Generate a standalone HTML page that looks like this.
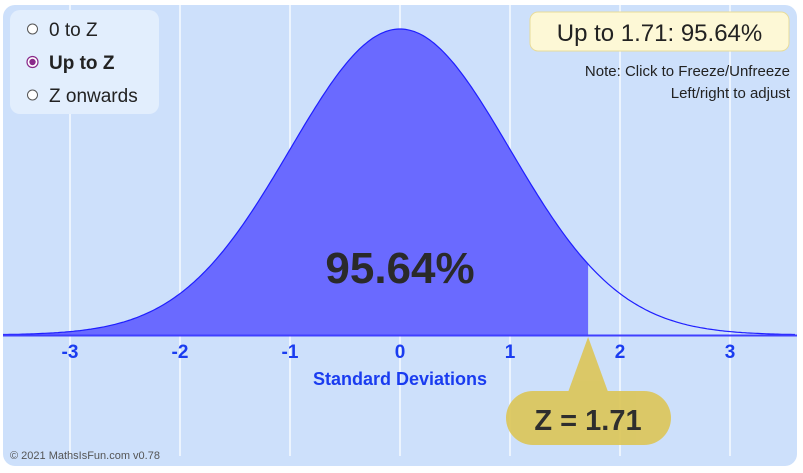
<!DOCTYPE html>
<html><head><meta charset="utf-8"><style>
body{margin:0;width:803px;height:473px;background:#fff;font-family:"Liberation Sans",Arial,sans-serif;overflow:hidden}
svg{position:absolute;left:0;top:0}
</style></head><body>
<svg width="803" height="473" id="chart">
<rect x="3" y="5" width="794" height="461" rx="12" fill="#cde0fb"/>
<g id="grid"></g>
<path id="fill" fill="#6a6aff"/>
<path id="curve" fill="none" stroke="#1f1fff" stroke-width="1.2"/>
<line x1="3" x2="797" y1="335.5" y2="335.5" stroke="#4040ff" stroke-width="2"/>
<g id="ticks"></g>
<text x="400" y="385" text-anchor="middle" font-size="18" font-weight="bold" fill="#1a3cf0">Standard Deviations</text>
<text id="pct" x="400" y="283" text-anchor="middle" font-size="44" font-weight="bold" fill="#2a2a2a"></text>
<g>
<rect x="10" y="10" width="149" height="104" rx="10" fill="#e2eefd"/>
<g><circle cx="32.5" cy="29" r="5" fill="#fff" stroke="#555" stroke-width="1"/><text x="49" y="36" font-size="19" fill="#222">0 to Z</text></g>
<g><circle cx="32.5" cy="62" r="5.5" fill="#fff" stroke="#8a2a8a" stroke-width="1.2"/><circle cx="32.5" cy="62" r="3.2" fill="#8a2a8a"/><text x="49" y="69" font-size="19" font-weight="bold" fill="#222">Up to Z</text></g>
<g><circle cx="32.5" cy="95" r="5" fill="#fff" stroke="#555" stroke-width="1"/><text x="49" y="102" font-size="19" fill="#222">Z onwards</text></g>
</g>
<rect x="530" y="12" width="259" height="39" rx="8" fill="#fdf8d6" stroke="#e8dc9a"/>
<text id="result" x="659.5" y="41" text-anchor="middle" font-size="24" fill="#222"></text>
<text x="790" y="76" text-anchor="end" font-size="15" fill="#222">Note: Click to Freeze/Unfreeze</text>
<text x="790" y="98" text-anchor="end" font-size="15" fill="#222">Left/right to adjust</text>
<g opacity="0.92">
<path id="tri" fill="#dcc65a"/>
<rect x="506" y="391" width="165" height="54" rx="27" fill="#dcc65a"/>
</g>
<text id="zlabel" x="588" y="430" text-anchor="middle" font-size="29" font-weight="bold" fill="#2e2e2e"></text>
<text x="10" y="459" font-size="11" fill="#555">© 2021 MathsIsFun.com v0.78</text>
</svg>
<script>
const zValue = 1.71;
const areaPercent = 95.64;
const tickValues = [-3,-2,-1,0,1,2,3];
const xOf = z => 400 + z*110;
const yOf = d => 335 - d/0.398942*306;
const pdf = z => Math.exp(-z*z/2)/Math.sqrt(2*Math.PI);
const ns="http://www.w3.org/2000/svg";
const grid=document.getElementById('grid'), ticks=document.getElementById('ticks');
tickValues.forEach(t=>{
  const l=document.createElementNS(ns,'line');
  l.setAttribute('x1',xOf(t));l.setAttribute('x2',xOf(t));l.setAttribute('y1',5);l.setAttribute('y2',456);
  l.setAttribute('stroke','#ffffff');l.setAttribute('stroke-width','1.5');l.setAttribute('opacity','0.85');
  
  
  grid.appendChild(l);
  const tx=document.createElementNS(ns,'text');
  tx.setAttribute('x',xOf(t));tx.setAttribute('y',358);tx.setAttribute('text-anchor','middle');
  tx.setAttribute('font-size','19');tx.setAttribute('font-weight','bold');tx.setAttribute('fill','#1a3cf0');
  tx.textContent=t;
  
  
  ticks.appendChild(tx);
});
let d='',f='';
const zmin=(3-400)/110, zmax=(797-400)/110;
for(let z=zmin;z<=zmax+1e-9;z+=0.02){const p=xOf(z).toFixed(1)+','+yOf(pdf(z)).toFixed(1);d+=(d?'L':'M')+p;if(z<=zValue)f+=(f?'L':'M')+p;}
f+='L'+xOf(zValue)+','+yOf(pdf(zValue))+'L'+xOf(zValue)+',335L3,335Z';
document.getElementById('curve').setAttribute('d',d);
document.getElementById('fill').setAttribute('d',f);
const zx=xOf(zValue);
document.getElementById('tri').setAttribute('d',`M${zx},337L${zx-20},392L${zx+20},392Z`);
document.getElementById('pct').textContent=areaPercent.toFixed(2)+'%';
document.getElementById('result').textContent='Up to '+zValue.toFixed(2)+': '+areaPercent.toFixed(2)+'%';
document.getElementById('zlabel').textContent='Z = '+zValue.toFixed(2);
</script>
</body></html>
